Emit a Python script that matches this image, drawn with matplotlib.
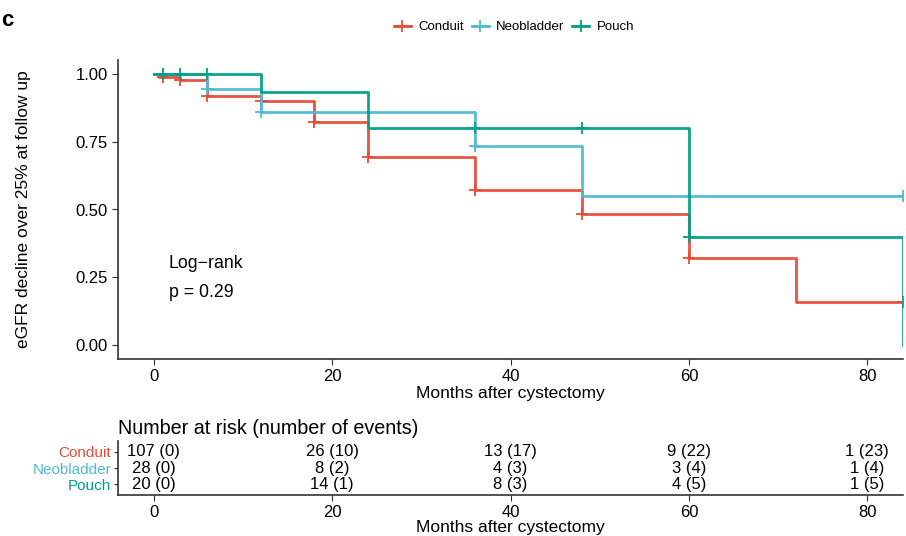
import matplotlib
matplotlib.use("Agg")
import matplotlib.pyplot as plt
from matplotlib.lines import Line2D

plt.rcParams['font.family'] = ['Liberation Sans', 'DejaVu Sans']

# step curves (time, survival after step)
groups = ["Conduit", "Neobladder", "Pouch"]
colors = ["#E64B35", "#4DBBD5", "#00A087"]

conduit_t = [0, 0.6, 3, 6, 12, 18, 24, 36, 48, 60, 72, 84]
conduit_s = [1.0, 0.988, 0.975, 0.919, 0.898, 0.822, 0.694, 0.572, 0.483, 0.321, 0.161, 0.161]
conduit_cens_t = [1, 3, 6, 12, 18, 24, 36, 48, 60, 84]

neo_t = [0, 6, 12, 36, 48, 84]
neo_s = [1.0, 0.943, 0.857, 0.735, 0.551, 0.551]
neo_cens_t = [1, 6, 12, 36, 84]

pouch_t = [0, 12, 24, 60, 84, 84]
pouch_s = [1.0, 0.932, 0.798, 0.40, 0.0, 0.0]
pouch_cens_t = [1, 3, 6, 36, 48, 60]

risk_times = [0, 20, 40, 60, 80]
risk_conduit = ["107 (0)", "26 (10)", "13 (17)", "9 (22)", "1 (23)"]
risk_neo = ["28 (0)", "8 (2)", "4 (3)", "3 (4)", "1 (4)"]
risk_pouch = ["20 (0)", "14 (1)", "8 (3)", "4 (5)", "1 (5)"]

curves = [(conduit_t, conduit_s, conduit_cens_t),
          (neo_t, neo_s, neo_cens_t),
          (pouch_t, pouch_s, pouch_cens_t)]
risks = [risk_conduit, risk_neo, risk_pouch]


def surv_at(t, s, x):
    v = s[0]
    for ti, si in zip(t, s):
        if ti <= x:
            v = si
    return v


fig = plt.figure(figsize=(9.06, 5.36), dpi=100)
ax = fig.add_axes([118/906, 1-359/536, (903-118)/906, (359-60)/536])

for (t, s, ct), col, name in zip(curves, colors, groups):
    ax.step(t, s, where='post', color=col, lw=2.0, alpha=0.95)
    cy = [surv_at(t, s, x) for x in ct]
    ax.plot(ct, cy, ls='none', marker='+', ms=9, mew=1.3, color=col)

ax.set_xlim(-4, 84)
ax.set_ylim(-0.05, 1.05)
ax.set_xticks([0, 20, 40, 60, 80])
ax.set_yticks([0, 0.25, 0.5, 0.75, 1.0])
ax.set_yticklabels(["0.00", "0.25", "0.50", "0.75", "1.00"])
ax.set_xlabel("Months after cystectomy", fontsize=12.5, labelpad=1)
ax.set_ylabel("eGFR decline over 25% at follow up", fontsize=12.5, labelpad=32)
for sp in ["top", "right"]:
    ax.spines[sp].set_visible(False)
for sp in ["left", "bottom"]:
    ax.spines[sp].set_color("#333333")
    ax.spines[sp].set_linewidth(1.2)
ax.tick_params(labelsize=12, length=4, color="#333333", labelcolor="black")

ax.text(1.7, 0.30, "Log\u2212rank", fontsize=12.8, va='center')
ax.text(1.7, 0.195, "p = 0.29", fontsize=12.8, va='center')

handles = [Line2D([0], [0], color=c, lw=2.0, marker='+', ms=9, mew=1.3) for c in colors]
fig.legend(handles, groups, loc='center', bbox_to_anchor=(514/906, 1-27/536), ncol=3,
           frameon=False, fontsize=9.5, handlelength=1.3, columnspacing=0.6, handletextpad=0.55)

fig.text(1/906, 1-20/536, "c", fontsize=16, fontweight='bold', va='center')

# risk table
tab = fig.add_axes([118/906, 1-495/536, (903-118)/906, (495-441)/536])
ypos = [3, 2, 1]
for row, y in zip(risks, ypos):
    for x, lab in zip(risk_times, row):
        tab.text(x, y, lab, ha='center', va='center', fontsize=12)
tab.set_xlim(-4, 84)
tab.set_ylim(0.35, 3.65)
tab.set_xticks([0, 20, 40, 60, 80])
tab.set_yticks(ypos)
tab.set_yticklabels(groups)
for lab, c in zip(tab.get_yticklabels(), colors):
    lab.set_color(c)
tab.set_xlabel("Months after cystectomy", fontsize=12.5, labelpad=0)
tab.set_title("Number at risk (number of events)", fontsize=14.2, loc='left', pad=5, x=0.0)
for sp in ["top", "right"]:
    tab.spines[sp].set_visible(False)
for sp in ["left", "bottom"]:
    tab.spines[sp].set_color("#333333")
    tab.spines[sp].set_linewidth(1.2)
tab.tick_params(axis='x', labelsize=12, length=4, color="#333333")
tab.tick_params(axis='y', labelsize=11, length=3, color="#333333", pad=2)

fig.savefig("out.png", dpi=100)
